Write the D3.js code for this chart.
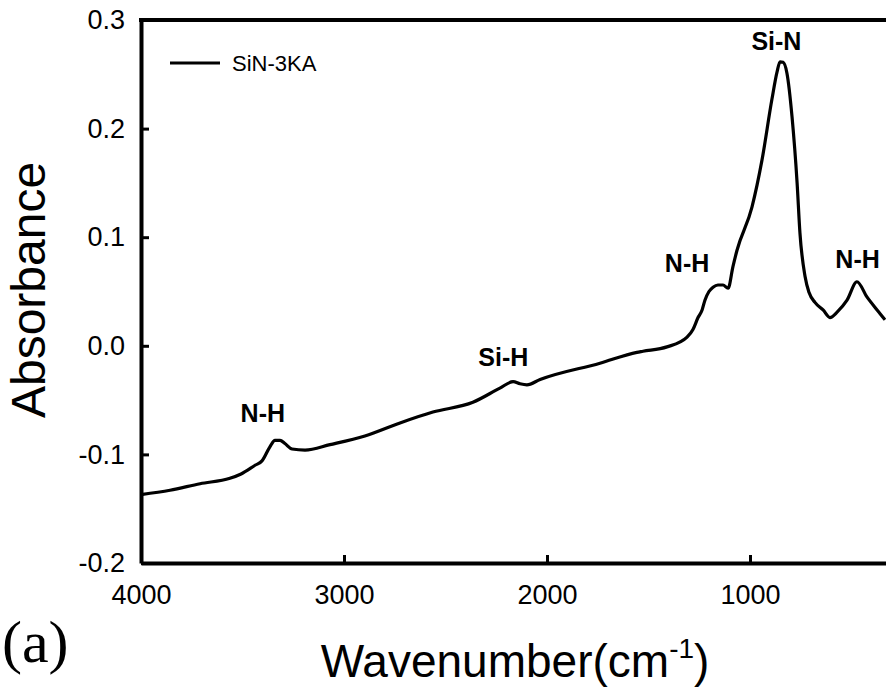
<!DOCTYPE html>
<html>
<head>
<meta charset="utf-8">
<script src="https://cdn.jsdelivr.net/npm/d3@7"></script>
<style>
  body { margin: 0; background: #fff; }
  svg { display: block; font-family: "Liberation Sans", Arial, sans-serif; }
</style>
</head>
<body>
<svg width="886" height="695"></svg>
<script>
// spectrum (wavenumber in cm-1, absorbance)
const wavenumber = [4000, 3857, 3709, 3562, 3507, 3438, 3404, 3365, 3340, 3315, 3291, 3256, 3192, 3069, 2897,
  2724, 2562, 2365, 2232, 2167, 2133, 2099, 2034, 1739, 1557, 1527, 1409, 1310, 1281, 1256, 1236, 1222,
  1202, 1182, 1158, 1133, 1108, 1084, 1064, 990, 941, 892, 867, 852, 837, 818, 793, 768, 754, 729, 709,
  680, 640, 606, 571, 522, 473, 424, 374, 335];
const absorbance = [-0.137, -0.133, -0.127, -0.122, -0.118, -0.110, -0.106, -0.093, -0.087, -0.087, -0.090,
  -0.095, -0.096, -0.091, -0.083, -0.071, -0.061, -0.052, -0.039, -0.033, -0.035, -0.036, -0.031, -0.016,
  -0.006, -0.005, -0.001, 0.008, 0.015, 0.026, 0.033, 0.042, 0.050, 0.054, 0.056, 0.056, 0.053, 0.073,
  0.088, 0.128, 0.171, 0.227, 0.252, 0.2615, 0.261, 0.251, 0.211, 0.150, 0.104, 0.064, 0.049, 0.040,
  0.033, 0.026, 0.031, 0.042, 0.059, 0.045, 0.033, 0.024];

const xTicks = [4000, 3000, 2000, 1000];
const yTicks = [-0.2, -0.1, 0.0, 0.1, 0.2, 0.3];

// peak labels
const peakNames = ["N-H", "Si-H", "N-H", "Si-N", "N-H"];
const peakWn = [3400, 2215, 1310, 870, 470];
const peakAbs = [-0.070, -0.019, 0.068, 0.272, 0.072];

const seriesName = "SiN-3KA";

const svg = d3.select("svg");
const x = d3.scaleLinear().domain([4000, 0]).range([141, 953]);
const y = d3.scaleLinear().domain([-0.2, 0.3]).range([563, 20]);

const data = wavenumber.map((w, i) => ({w: w, a: absorbance[i]}));

// curve
const line = d3.line()
    .x(d => x(d.w))
    .y(d => y(d.a))
    .curve(d3.curveMonotoneX);

svg.append("path")
    .datum(data)
    .attr("fill", "none")
    .attr("stroke", "#000")
    .attr("stroke-width", 3.2)
    .attr("stroke-linejoin", "round")
    .attr("d", line);

// axes, ticks pointing inward
const yAxis = svg.append("g")
    .attr("transform", "translate(" + x(4000) + ",0)")
    .call(d3.axisLeft(y).tickValues(yTicks).tickSizeInner(-8).tickSizeOuter(0)
      .tickPadding(16).tickFormat(d => d.toFixed(1)));

const xAxis = svg.append("g")
    .attr("transform", "translate(0," + y(-0.2) + ")")
    .call(d3.axisBottom(x).tickValues(xTicks).tickSizeInner(-8).tickSizeOuter(0)
      .tickPadding(22).tickFormat(d3.format("d")));

[xAxis, yAxis].forEach(function(ax) {
  ax.select(".domain").attr("stroke-width", 4);
  ax.selectAll(".tick line").attr("stroke-width", 3);
  ax.selectAll(".tick text")
      .attr("font-size", 27)
      .attr("font-family", "'Liberation Sans', Arial, sans-serif")
      .attr("fill", "#000");
});

// top frame line
svg.append("line")
    .attr("x1", x(4000) - 2).attr("x2", x(0))
    .attr("y1", y(0.3)).attr("y2", y(0.3))
    .attr("stroke", "#000")
    .attr("stroke-width", 4);

// legend
svg.append("line")
    .attr("x1", 170).attr("x2", 220)
    .attr("y1", 63).attr("y2", 63)
    .attr("stroke", "#000").attr("stroke-width", 3);
svg.append("text")
    .attr("x", 232).attr("y", 71)
    .attr("font-size", 22)
    .text(seriesName);

// peak annotations
svg.selectAll(".peak")
  .data(peakNames)
  .enter().append("text")
    .attr("class", "peak")
    .attr("x", (d, i) => x(peakWn[i]))
    .attr("y", (d, i) => y(peakAbs[i]))
    .attr("text-anchor", "middle")
    .attr("font-size", 25)
    .attr("font-weight", "bold")
    .text(d => d);

// axis titles
const xt = svg.append("text")
    .attr("x", 515).attr("y", 677)
    .attr("text-anchor", "middle")
    .attr("font-size", 46);
xt.append("tspan").text("Wavenumber(cm");
xt.append("tspan").attr("dy", -19).attr("font-size", 28).text("-1");
xt.append("tspan").attr("dy", 19).text(")");

svg.append("text")
    .attr("transform", "translate(45,290) rotate(-90)")
    .attr("text-anchor", "middle")
    .attr("font-size", 48)
    .text("Absorbance");

svg.append("text")
    .attr("x", 2).attr("y", 662)
    .attr("font-family", "'Liberation Serif', 'Times New Roman', serif")
    .attr("font-size", 60)
    .text("(a)");
</script>
</body>
</html>
